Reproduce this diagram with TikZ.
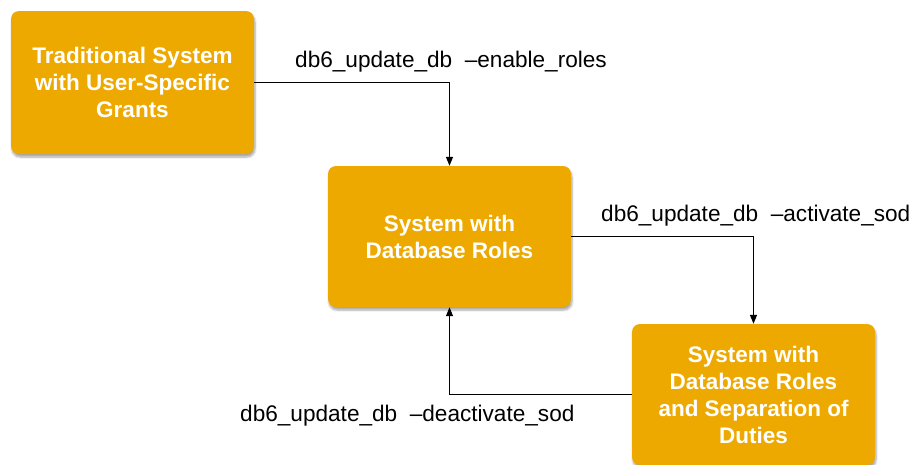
\documentclass[tikz,border=0pt]{standalone}
\usepackage{fontspec}
\setmainfont{Liberation Sans}
\usetikzlibrary{arrows.meta,shadows.blur}
\definecolor{boxgold}{HTML}{EEA900}
\tikzset{
  statebox/.style={fill=boxgold, rounded corners=8pt, minimum width=243pt,
    align=center, text=white, font=\fontsize{22.5}{27}\selectfont\bfseries,
    blur shadow={shadow xshift=1pt, shadow yshift=-3pt, shadow blur steps=6,
      shadow opacity=35}},
  cmd/.style={font=\fontsize{22.6}{26}\selectfont, text=black, inner sep=0pt},
  link/.style={draw=black, line width=1.3pt, -{Triangle[length=9pt,width=7pt]}}
}
\begin{document}
\begin{tikzpicture}[x=1pt,y=-1pt]
  \useasboundingbox (0,0) rectangle (912,464);
  \node[statebox, minimum height=143pt] (trad) at (132.5,82.5)
    {Traditional System\\with User-Specific\\Grants};
  \node[statebox, minimum height=141pt] (roles) at (449.5,236.5)
    {System with\\Database Roles};
  \node[statebox, minimum height=141pt] (sod) at (753.5,394.5)
    {System with\\Database Roles\\and Separation of\\Duties};

  \draw[link] (trad.east) -| (roles.north);
  \draw[link] (roles.east) -| (sod.north);
  \draw[link] (sod.west) -| (roles.south);

  \node[cmd, anchor=west] (l1) at (295,62) {db6\_update\_db \ –enable\_roles};
  \node[cmd, anchor=west] (l2) at (601,216) {db6\_update\_db \ –activate\_sod};
  \node[cmd, anchor=west] (l3) at (240,416) {db6\_update\_db \ –deactivate\_sod};
\end{tikzpicture}
\end{document}
